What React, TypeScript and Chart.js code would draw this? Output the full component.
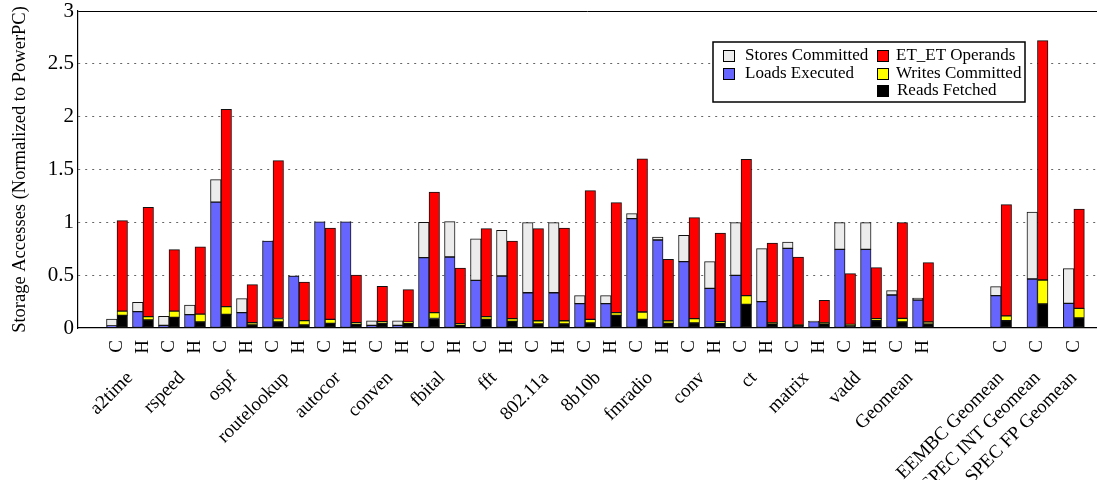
import React, { useEffect, useRef } from 'react';
import { Chart, registerables } from 'chart.js';

Chart.register(...registerables);

// ---- categories ----
const benchmarks = ['a2time', 'rspeed', 'ospf', 'routelookup', 'autocor', 'conven', 'fbital', 'fft', '802.11a', '8b10b', 'fmradio', 'conv', 'ct', 'matrix', 'vadd', 'Geomean'];
const configs = ['C', 'H'];
const summaries = ['EEMBC Geomean', 'SPEC INT Geomean', 'SPEC FP Geomean'];
const summaryConfig = 'C';
const yTickValues = [0, 0.5, 1, 1.5, 2, 2.5, 3];

// ---- series (segment heights), one entry per bar pair:
// 16 benchmarks x (C, H), then the 3 summary geomeans ----
const loadsExecuted = [
  0.02, 0.155, 0.025, 0.126, 1.192, 0.145, 0.822, 0.492, 1.005, 1.005,
  0.025, 0.025, 0.666, 0.672, 0.451, 0.492, 0.334, 0.334, 0.23, 0.23,
  1.035, 0.833, 0.628, 0.375, 0.498, 0.249, 0.754, 0.06, 0.744, 0.744,
  0.312, 0.265,
  0.306, 0.464, 0.233,
];
const storesCommitted = [
  0.065, 0.088, 0.085, 0.092, 0.212, 0.133, 0.004, 0.003, 0.003, 0.003,
  0.044, 0.044, 0.334, 0.334, 0.394, 0.432, 0.663, 0.663, 0.076, 0.076,
  0.047, 0.028, 0.249, 0.253, 0.499, 0.502, 0.06, 0.006, 0.253, 0.253,
  0.041, 0.019,
  0.085, 0.634, 0.329,
];
const readsFetched = [
  0.12, 0.076, 0.10, 0.057, 0.129, 0.028, 0.057, 0.028, 0.044, 0.035,
  0.044, 0.047, 0.09, 0.03, 0.082, 0.063, 0.038, 0.038, 0.047, 0.12,
  0.082, 0.044, 0.047, 0.047, 0.224, 0.041, 0.025, 0.041, 0.022, 0.069,
  0.057, 0.038,
  0.069, 0.227, 0.095,
];
const writesCommitted = [
  0.04, 0.031, 0.06, 0.075, 0.073, 0.022, 0.033, 0.042, 0.038, 0.015,
  0.016, 0.008, 0.055, 0.01, 0.025, 0.025, 0.031, 0.031, 0.035, 0.025,
  0.069, 0.025, 0.041, 0.013, 0.082, 0.009, 0.005, 0.009, 0.013, 0.019,
  0.034, 0.019,
  0.045, 0.227, 0.091,
];
const etOperands = [
  0.856, 1.035, 0.581, 0.635, 1.867, 0.36, 1.494, 0.365, 0.864, 0.45,
  0.334, 0.308, 1.142, 0.528, 0.833, 0.735, 0.871, 0.877, 1.218, 1.041,
  1.449, 0.581, 0.956, 0.839, 1.29, 0.754, 0.642, 0.212, 0.479, 0.483,
  0.906, 0.561,
  1.053, 2.265, 0.94,
];

// ---- layout helpers (index based, not data) ----
const SUMMARY_START = benchmarks.length * configs.length + 2;
const SUMMARY_STEP = 1.4;
const X_MIN = -1.5;
const X_MAX = 37.69;

const slotPos: number[] = [
  ...benchmarks.flatMap((_, i) => configs.map((_, j) => i * configs.length + j)),
  ...summaries.map((_, j) => SUMMARY_START + j * SUMMARY_STEP),
];
const slotLabels: string[] = [
  ...benchmarks.flatMap(() => configs),
  ...summaries.map(() => summaryConfig),
];
const namePos: number[] = [
  ...benchmarks.map((_, i) => i * configs.length + (configs.length - 1) / 2),
  ...summaries.map((_, j) => SUMMARY_START + j * SUMMARY_STEP),
];
const nameLabels: string[] = [...benchmarks, ...summaries];

const FONT = "'Liberation Serif', 'DejaVu Serif', serif";
const C_GRAY = '#ececec';
const C_BLUE = '#6666ff';
const C_RED = '#ff0000';
const C_YELLOW = '#ffff00';
const C_BLACK = '#000000';

const makeDs = (label: string, values: number[], color: string, stack: string) => ({
  label,
  data: values.map((v, i) => ({ x: slotPos[i], y: v })),
  backgroundColor: color,
  borderColor: '#111',
  borderWidth: 1,
  borderSkipped: false,
  stack,
  barThickness: 10.5,
  xAxisID: 'xCH',
  yAxisID: 'y',
});

// legend layout: dataset index + placement
const legendLayout = [
  { ds: 1, x: 723, tx: 745, y: 56 },
  { ds: 0, x: 723, tx: 745, y: 74 },
  { ds: 4, x: 877, tx: 896, y: 56 },
  { ds: 3, x: 877, tx: 896, y: 74 },
  { ds: 2, x: 877, tx: 897, y: 91 },
];

const legendPlugin = {
  id: 'boxLegend',
  afterDraw(chart: any) {
    const ctx = chart.ctx;
    ctx.save();
    const bx = 713, by = 42, bw = 312, bh = 60;
    ctx.fillStyle = '#fff';
    ctx.fillRect(bx, by, bw, bh);
    ctx.lineWidth = 1.5;
    ctx.strokeStyle = '#000';
    ctx.strokeRect(bx, by, bw, bh);
    ctx.font = `17px ${FONT}`;
    ctx.textBaseline = 'middle';
    ctx.textAlign = 'left';
    legendLayout.forEach(({ ds, x, tx, y }) => {
      const d = chart.data.datasets[ds];
      ctx.fillStyle = d.backgroundColor;
      ctx.fillRect(x, y - 6, 12, 12);
      ctx.lineWidth = 1;
      ctx.strokeStyle = '#000';
      ctx.strokeRect(x + 0.5, y - 5.5, 11, 11);
      ctx.fillStyle = '#000';
      ctx.fillText(d.label, tx, y);
    });
    ctx.restore();
  },
};

export default function App() {
  const ref = useRef<HTMLCanvasElement | null>(null);

  useEffect(() => {
    if (!ref.current) return;
    const chart = new Chart(ref.current, {
      type: 'bar',
      data: {
        datasets: [
          makeDs('Loads Executed', loadsExecuted, C_BLUE, 'L'),
          makeDs('Stores Committed', storesCommitted, C_GRAY, 'L'),
          makeDs('Reads Fetched', readsFetched, C_BLACK, 'R'),
          makeDs('Writes Committed', writesCommitted, C_YELLOW, 'R'),
          makeDs('ET_ET Operands', etOperands, C_RED, 'R'),
        ] as any,
      },
      options: {
        animation: false,
        responsive: false,
        layout: { padding: { top: 11, left: 0, right: 0, bottom: 0 } },
        plugins: {
          legend: { display: false },
          tooltip: { enabled: false },
        },
        scales: {
          y: {
            type: 'linear',
            position: 'left',
            stacked: true,
            min: 0,
            max: 3,
            afterBuildTicks: (s: any) => {
              s.ticks = yTickValues.map((value) => ({ value }));
            },
            afterFit: (s: any) => {
              s.width = 78;
              s.paddingTop = 0;
              s.paddingBottom = 0;
            },
            ticks: {
              callback: (v: any) => String(v),
              font: { family: FONT, size: 21 },
              color: '#000',
              padding: 4,
            },
            grid: {
              drawTicks: false,
              lineWidth: 1,
              color: (c: any) =>
                c.tick && c.tick.value === 3 ? '#000' : c.tick && c.tick.value === 0 ? 'rgba(0,0,0,0)' : '#666',
            },
            border: {
              display: true,
              color: '#000',
              width: 1.2,
              dash: (c: any) => (c.tick && c.tick.value === 3 ? [] : [2, 5]),
            },
            title: {
              display: true,
              text: 'Storage Accesses (Normalized to PowerPC)',
              font: { family: FONT, size: 18.5 },
              color: '#000',
              padding: { top: 9, bottom: 0 },
            },
          },
          xCH: {
            type: 'linear',
            position: 'bottom',
            weight: 0,
            offset: false,
            min: X_MIN,
            max: X_MAX,
            afterBuildTicks: (s: any) => {
              s.ticks = slotPos.map((value) => ({ value }));
            },
            afterFit: (s: any) => {
              s.height = 30;
              s.paddingLeft = 0;
              s.paddingRight = 0;
            },
            ticks: {
              autoSkip: false,
              minRotation: 90,
              maxRotation: 90,
              callback: (_v: any, i: number) => slotLabels[i],
              font: { family: FONT, size: 19 },
              color: '#000',
              padding: 12,
            },
            grid: { display: false, drawTicks: false, offset: false },
            border: { display: true, color: '#000', width: 1.2 },
          },
          xName: {
            type: 'linear',
            position: 'bottom',
            weight: 1,
            offset: false,
            min: X_MIN,
            max: X_MAX,
            afterBuildTicks: (s: any) => {
              s.ticks = namePos.map((value) => ({ value }));
            },
            afterFit: (s: any) => {
              s.height = 122;
              s.paddingLeft = 0;
              s.paddingRight = 0;
            },
            ticks: {
              autoSkip: false,
              minRotation: 45,
              maxRotation: 45,
              callback: (_v: any, i: number) => nameLabels[i],
              font: { family: FONT, size: 19 },
              color: '#000',
              padding: 9,
            },
            grid: { display: false, drawTicks: false, offset: false },
            border: { display: false },
          },
        },
      } as any,
      plugins: [legendPlugin],
    });
    return () => chart.destroy();
  }, []);

  return (
    <div style={{ position: 'absolute', left: 0, top: 0, width: 1097, height: 480, overflow: 'hidden', background: '#fff' }}>
      <canvas ref={ref} width={1097} height={480} style={{ display: 'block' }} />
    </div>
  );
}
